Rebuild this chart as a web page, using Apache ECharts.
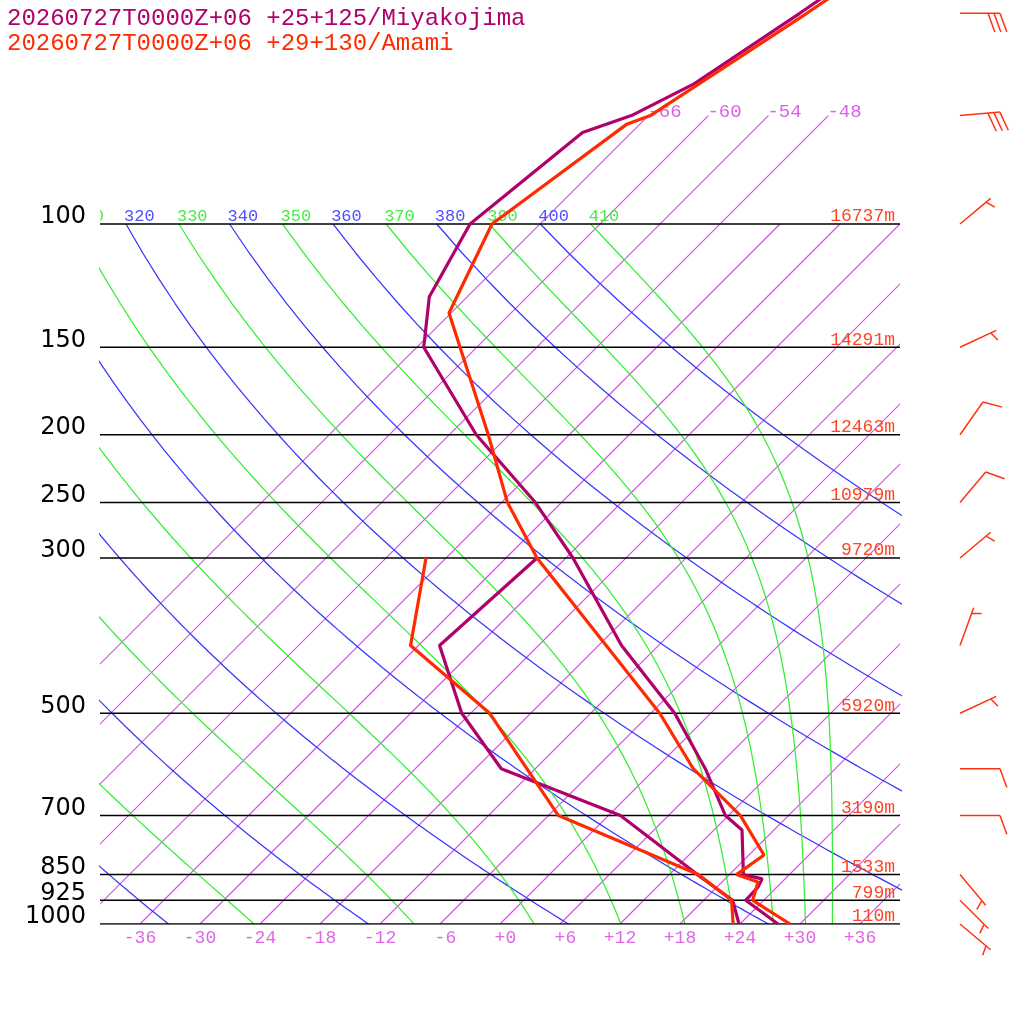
<!DOCTYPE html>
<html>
<head>
<meta charset="utf-8">
<script src="https://cdn.jsdelivr.net/npm/echarts@6/dist/echarts.min.js"></script>
<style>html,body{margin:0;padding:0;background:#fff}#c{width:1024px;height:1024px}</style>
</head>
<body>
<div id="c"></div>
<script>
// ---------------- data ----------------
const titles = ['20260727T0000Z+06 +25+125/Miyakojima', '20260727T0000Z+06 +29+130/Amami'];
const stationColors = ['#b0006a', '#ff2a00'];

const pressureLevels = [100, 150, 200, 250, 300, 500, 700, 850, 925, 1000];
const heightLabels = ['16737m', '14291m', '12463m', '10979m', '9720m', '5920m', '3190m', '1533m', '799m', '110m'];
const tempTicks = [-36, -30, -24, -18, -12, -6, 0, 6, 12, 18, 24, 30, 36];

const isotherms = [-66, -60, -54, -48, -42, -36, -30, -24, -18, -12, -6, 0, 6, 12, 18, 24, 30, 36];
const isothermLabels = [-66, -60, -54, -48];
const dryAdiabats = [240, 260, 280, 300, 320, 340, 360, 380, 400];
const moistAdiabats = [250, 270, 290, 310, 330, 350, 370, 390, 410];

// Miyakojima
const miyaTempP = [1000, 925, 885, 862, 850, 734, 700, 600, 500, 400, 300, 250, 200, 150, 127, 100, 74, 70, 63, 50, 30];
const miyaTempT = [27.8, 22.2, 22.1, 21.7, 19.4, 14.8, 11.7, 5.0, -3.6, -15.7, -29.3, -38.6, -51.3, -65.3, -69.8, -73.0, -70.9, -67.7, -64.6, -61.1, -54.0];
const miyaDewP = [1000, 925, 850, 700, 600, 500, 400, 300];
const miyaDewT = [23.9, 20.9, 14.8, 1.2, -15.4, -24.9, -33.9, -32.9];

// Amami
const amamiTempP = [1000, 925, 871, 850, 797, 700, 600, 500, 300, 250, 200, 134, 100, 72, 70, 50, 30];
const amamiTempT = [29.0, 22.9, 21.6, 18.7, 19.5, 13.2, 3.8, -5.1, -32.9, -41.4, -50.1, -66.2, -70.8, -67.3, -65.8, -60.4, -53.0];
const amamiDewP = [1000, 925, 850, 700, 500, 400, 300];
const amamiDewT = [23.3, 20.8, 14.9, -5.0, -22.1, -36.8, -44.0];

// Amami winds (direction in degrees, speed in knots)
const windP = [1000, 925, 850, 700, 600, 500, 400, 300, 250, 200, 150, 100, 70, 50];
const windDir = [130, 135, 140, 90, 90, 65, 20, 50, 40, 35, 65, 50, 85, 90];
const windSpd = [5, 5, 5, 10, 10, 5, 5, 5, 10, 10, 5, 5, 30, 30];

// ---------------- skew-T helpers ----------------
const SKEW = 70;          // deg C shift per decade of pressure
const P_TOP = 47.86;
const P_BOT = 1000;
function skewX(T, p) { return T + SKEW * Math.log10(1000 / p); }

function esat(Tc) { return 6.112 * Math.exp(17.67 * Tc / (Tc + 243.5)); }
function thetaESat(TK, p) {
  const es = esat(TK - 273.15);
  if (es > 0.5 * p) return Infinity;
  const r = 622 * es / (p - es);
  return TK * Math.pow(1000 / p, 0.2854 * (1 - 0.00028 * r)) *
    Math.exp((3.376 / TK - 0.00254) * r * (1 + 0.00081 * r));
}
function moistT(thE, p) {
  let lo = 120, hi = 340;
  for (let k = 0; k < 60; k++) {
    const mid = (lo + hi) / 2;
    if (thetaESat(mid, p) > thE) hi = mid; else lo = mid;
  }
  return (lo + hi) / 2 - 273.15;
}
const samplePs = [];
for (let p = 1000; p >= 100; p -= 10) samplePs.push(p);

// ---------------- series ----------------
const series = [];
function lineSeries(data, color, width, z) {
  return {
    type: 'line', xAxisIndex: 0, yAxisIndex: 0, data: data, symbol: 'none', showSymbol: false,
    silent: true, animation: false, z: z, clip: true, color: color,
    itemStyle: { color: color },
    lineStyle: { color: color, width: width, opacity: 1 }
  };
}

// isotherms drawn as straight segments through the cartesian coordinate system
const isoItems = isotherms.map(T => {
  const top = isothermLabels.includes(T) ? 70 : 100;
  return [skewX(T, 1000), 1000, skewX(T, top), top];
});
series.push({
  type: 'custom', xAxisIndex: 0, yAxisIndex: 0, clip: true, silent: true, animation: false, z: 1,
  data: isoItems,
  renderItem: function (params, api) {
    const a = api.coord([api.value(0), api.value(1)]);
    const b = api.coord([api.value(2), api.value(3)]);
    return { type: 'line', shape: { x1: a[0], y1: a[1], x2: b[0], y2: b[1] },
      style: { stroke: '#e046f5', lineWidth: 1.15 } };
  }
});
dryAdiabats.forEach(th => {
  series.push(lineSeries(samplePs.map(p => [skewX(th * Math.pow(p / 1000, 0.2857) - 273.15, p), p]), '#3636ff', 1.25, 1));
});
moistAdiabats.forEach(th => {
  series.push(lineSeries(samplePs.map(p => [skewX(moistT(th, p), p), p]), '#33ee33', 1.25, 1));
});
pressureLevels.forEach(p => {
  series.push(lineSeries([[-40, p], [40, p]], '#000', 1.5, 2));
});

// adiabat labels at 100 hPa (clipped to the plot)
const adiabatLabelItems = [];
dryAdiabats.forEach(th => adiabatLabelItems.push({ x: skewX(th * Math.pow(0.1, 0.2857) - 273.15, 100), text: String(th), color: '#5050ff' }));
moistAdiabats.forEach(th => adiabatLabelItems.push({ x: skewX(moistT(th, 100), 100), text: String(th), color: '#4ce84c' }));
series.push({
  type: 'custom', xAxisIndex: 0, yAxisIndex: 0, clip: true, silent: true, animation: false, z: 3,
  data: adiabatLabelItems.map(o => [o.x, 100]),
  renderItem: function (params, api) {
    const o = adiabatLabelItems[params.dataIndex];
    const pt = api.coord([api.value(0), api.value(1)]);
    return { type: 'text', x: pt[0] - 2, y: pt[1] - 8,
      style: { text: o.text, fill: o.color, font: '17px "Liberation Mono"', align: 'left', verticalAlign: 'middle' } };
  }
});

// isotherm labels at 70 hPa
series.push({
  type: 'custom', xAxisIndex: 0, yAxisIndex: 0, clip: false, silent: true, animation: false, z: 3,
  data: isothermLabels.map(T => [skewX(T, 70), 70]),
  renderItem: function (params, api) {
    const pt = api.coord([api.value(0), api.value(1)]);
    return { type: 'text', x: pt[0] - 1, y: pt[1] - 4,
      style: { text: String(isothermLabels[params.dataIndex]), fill: '#dd60e8', font: '19px "Liberation Mono"', align: 'left', verticalAlign: 'middle' } };
  }
});

// pressure labels (left) and height labels (right)
series.push({
  type: 'custom', xAxisIndex: 0, yAxisIndex: 0, clip: false, silent: true, animation: false, z: 3,
  data: pressureLevels.map(p => [-40, p]),
  renderItem: function (params, api) {
    const pt = api.coord([api.value(0), api.value(1)]);
    return { type: 'text', x: pt[0] - 14, y: pt[1] - 7,
      style: { text: String(pressureLevels[params.dataIndex]), fill: '#000', font: '24px "DejaVu Sans"', align: 'right', verticalAlign: 'middle' } };
  }
});
series.push({
  type: 'custom', xAxisIndex: 0, yAxisIndex: 0, clip: false, silent: true, animation: false, z: 3,
  data: pressureLevels.map(p => [39.5, p]),
  renderItem: function (params, api) {
    const pt = api.coord([api.value(0), api.value(1)]);
    return { type: 'text', x: pt[0], y: pt[1] - 7.5,
      style: { text: heightLabels[params.dataIndex], fill: '#ff4422', font: '18px "Liberation Mono"', align: 'right', verticalAlign: 'middle' } };
  }
});

// soundings
function sounding(P, T) { return P.map((p, i) => [skewX(T[i], p), p]); }
series.push(lineSeries(sounding(miyaTempP, miyaTempT), stationColors[0], 3.2, 5));
series.push(lineSeries(sounding(miyaDewP, miyaDewT), stationColors[0], 3.2, 5));
series.push(lineSeries(sounding(amamiTempP, amamiTempT), stationColors[1], 3.2, 6));
series.push(lineSeries(sounding(amamiDewP, amamiDewT), stationColors[1], 3.2, 6));

// wind barbs (Amami)
series.push({
  type: 'custom', xAxisIndex: 1, yAxisIndex: 1, clip: false, silent: true, animation: false, z: 6,
  data: windP.map(p => [0, p]),
  renderItem: function (params, api) {
    const i = params.dataIndex;
    const base = api.coord([api.value(0), api.value(1)]);
    const d = windDir[i] * Math.PI / 180;
    const ux = Math.sin(d), uy = -Math.cos(d);
    const L = 40, sp = 6, a = 70 * Math.PI / 180;
    const bx = ux * Math.cos(a) - uy * Math.sin(a);
    const by = ux * Math.sin(a) + uy * Math.cos(a);
    const tip = [base[0] + ux * L, base[1] + uy * L];
    const st = { stroke: '#ff3311', lineWidth: 1.5 };
    const ch = [{ type: 'line', shape: { x1: base[0], y1: base[1], x2: tip[0], y2: tip[1] }, style: st }];
    const nFull = Math.floor(windSpd[i] / 10);
    const half = (windSpd[i] % 10) >= 5;
    for (let k = 0; k < nFull; k++) {
      const sx = tip[0] - ux * sp * k, sy = tip[1] - uy * sp * k;
      ch.push({ type: 'line', shape: { x1: sx, y1: sy, x2: sx + bx * 20, y2: sy + by * 20 }, style: st });
    }
    if (half) {
      const k = Math.max(nFull, 1);
      const sx = tip[0] - ux * sp * k, sy = tip[1] - uy * sp * k;
      ch.push({ type: 'line', shape: { x1: sx, y1: sy, x2: sx + bx * 10, y2: sy + by * 10 }, style: st });
    }
    return { type: 'group', children: ch };
  }
});

function fmtTick(v) {
  let s = (v < 0 ? '-' : '+') + Math.abs(v);
  while (s.length < 3) s = ' ' + s;
  return s;
}

const option = {
  animation: false,
  backgroundColor: '#fff',
  title: [
    { text: titles[0], left: 7, top: 7, padding: 0,
      textStyle: { color: stationColors[0], fontFamily: 'Liberation Mono', fontSize: 24, fontWeight: 'normal' } },
    { text: titles[1], left: 7, top: 32, padding: 0,
      textStyle: { color: stationColors[1], fontFamily: 'Liberation Mono', fontSize: 24, fontWeight: 'normal' } }
  ],
  grid: [
    { left: 100, top: 0, width: 800, height: 924, containLabel: false },
    { left: 960, top: 0, width: 60, height: 924, containLabel: false }
  ],
  xAxis: [
    { type: 'value', gridIndex: 0, min: -40, max: 40,
      axisLine: { show: false }, axisTick: { show: false }, splitLine: { show: false },
      axisLabel: { customValues: tempTicks, formatter: fmtTick, color: '#e066e6',
        fontFamily: 'Liberation Mono', fontSize: 18, margin: 5, hideOverlap: false } },
    { type: 'value', gridIndex: 1, min: 0, max: 1, show: false }
  ],
  yAxis: [
    { type: 'log', gridIndex: 0, min: P_TOP, max: P_BOT, inverse: true, show: false },
    { type: 'log', gridIndex: 1, min: P_TOP, max: P_BOT, inverse: true, show: false }
  ],
  series: series
};

const chart = echarts.init(document.getElementById('c'), null, { renderer: 'canvas' });
chart.setOption(option);
</script>
</body>
</html>
